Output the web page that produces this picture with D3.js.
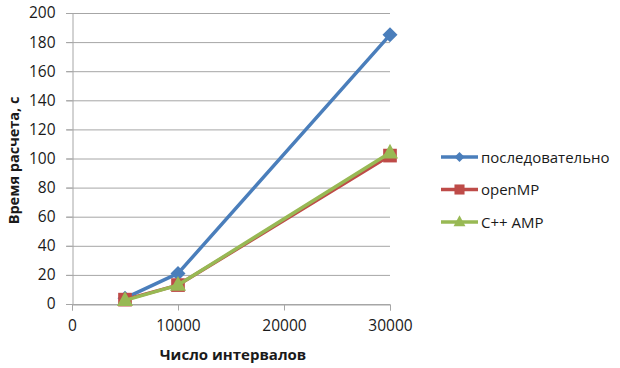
<!DOCTYPE html>
<html>
<head>
<meta charset="utf-8">
<script src="https://cdn.jsdelivr.net/npm/d3@7"></script>
<style>
  html, body { margin: 0; padding: 0; background: #fff; }
  svg { display: block; font-family: "Open Sans", "Liberation Sans", sans-serif; }
</style>
</head>
<body>
<svg id="chart" width="620" height="368"></svg>
<script>
// Execution time vs. number of intervals
const intervals = [5000, 10000, 30000];
const seriesNames = ["последовательно", "openMP", "C++ AMP"];
const sequential = [4, 21, 185];
const openMP = [3, 13, 102];
const cppAMP = [2.5, 13, 104];
const xTicks = [0, 10000, 20000, 30000];
const yTicks = [0, 20, 40, 60, 80, 100, 120, 140, 160, 180, 200];
const xTitle = "Число интервалов";
const yTitle = "Время расчета, с";

const colors = ["#4a7ebb", "#be4b48", "#98b954"];
const values = [sequential, openMP, cppAMP];

// marker shapes: square rotated 45° for the diamond, plain square, triangle
const markerPath = (s, r) => {
  if (s === 0) return `M0,${-r}L${r},0L0,${r}L${-r},0Z`;
  if (s === 1) return `M${-r * 0.72},${-r * 0.72}H${r * 0.72}V${r * 0.72}H${-r * 0.72}Z`;
  return `M0,${-r * 0.95}L${r * 0.85},${r * 0.6}L${-r * 0.85},${r * 0.6}Z`;
};

const svg = d3.select("#chart");
const m = { left: 72, top: 13, right: 390, bottom: 304 };

const x = d3.scaleLinear().domain([0, 30000]).range([m.left, m.right]);
const y = d3.scaleLinear().domain([0, 200]).range([m.bottom, m.top]);

// horizontal gridlines
svg.append("g").selectAll("line").data(yTicks).join("line")
  .attr("x1", m.left - 6).attr("x2", m.right)
  .attr("y1", d => y(d) + 0.5).attr("y2", d => y(d) + 0.5)
  .attr("stroke", "#a6a6a6").attr("stroke-width", 1);

// y axis
const yAxis = svg.append("g").attr("transform", `translate(${m.left + 0.5},0)`)
  .call(d3.axisLeft(y).tickValues(yTicks).tickSize(6).tickPadding(11));
yAxis.select(".domain").attr("stroke", "#a6a6a6");
yAxis.selectAll(".tick line").attr("stroke", "#a6a6a6");
yAxis.selectAll("text").attr("font-size", 15.5).attr("fill", "#1a1a1a")
  .attr("font-family", "Open Sans, sans-serif");

// x axis
const xAxis = svg.append("g").attr("transform", `translate(0,${m.bottom + 0.5})`)
  .call(d3.axisBottom(x).tickValues(xTicks).tickFormat(d3.format("d")).tickSize(6).tickPadding(9));
xAxis.select(".domain").attr("stroke", "#a6a6a6");
xAxis.selectAll(".tick line").attr("stroke", "#a6a6a6");
xAxis.selectAll("text").attr("font-size", 15.5).attr("fill", "#1a1a1a")
  .attr("font-family", "Open Sans, sans-serif");

// axis titles
svg.append("text").attr("x", (m.left + m.right) / 2 + 2).attr("y", 360)
  .attr("text-anchor", "middle").attr("font-size", 15).attr("font-weight", "bold")
  .attr("fill", "#1a1a1a").text(xTitle);
svg.append("text").attr("transform", `translate(19,${(m.top + m.bottom) / 2 + 2}) rotate(-90)`)
  .attr("text-anchor", "middle").attr("font-size", 14.5).attr("font-weight", "bold")
  .attr("fill", "#1a1a1a").text(yTitle);

// series lines and markers
const line = d3.line().x((d, i) => x(intervals[i])).y(d => y(d));
values.forEach((vals, s) => {
  const g = svg.append("g");
  g.append("path").datum(vals).attr("d", line)
    .attr("fill", "none").attr("stroke", colors[s]).attr("stroke-width", 3.5)
    .attr("stroke-linejoin", "round");
  g.selectAll("path.mk").data(vals).join("path").attr("class", "mk")
    .attr("transform", (d, i) => `translate(${x(intervals[i])},${y(d)})`)
    .attr("d", markerPath(s, s === 0 ? 7.5 : 9.5))
    .attr("fill", colors[s]);
});

// legend
const legend = svg.append("g");
seriesNames.forEach((name, s) => {
  const ly = 157 + s * 32.5;
  legend.append("line").attr("x1", 441).attr("x2", 478).attr("y1", ly).attr("y2", ly)
    .attr("stroke", colors[s]).attr("stroke-width", 3.5);
  legend.append("path").attr("transform", `translate(459.5,${ly})`)
    .attr("d", markerPath(s, s === 0 ? 5 : 7)).attr("fill", colors[s]);
  legend.append("text").attr("x", 481).attr("y", ly + 5.5)
    .attr("font-size", 15).attr("fill", "#1a1a1a").text(name);
});
</script>
</body>
</html>
